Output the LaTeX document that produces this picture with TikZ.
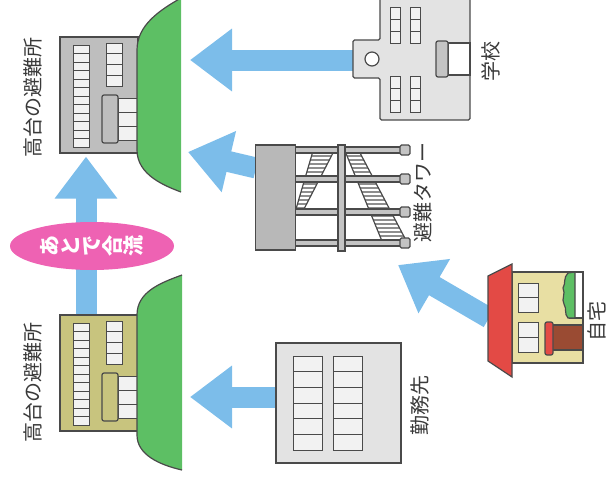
\documentclass[tikz,border=0pt]{standalone}
\usepackage{fontspec}
\setmainfont{Noto Sans CJK JP}
\usetikzlibrary{arrows.meta,positioning,shapes.geometric}

\definecolor{evacblue}{HTML}{7CBDEA}
\definecolor{hillgreen}{HTML}{5DBF64}
\definecolor{outline}{HTML}{4A4A4A}
\definecolor{labeltext}{HTML}{3A3A3A}
\definecolor{winwhite}{HTML}{F2F2F2}
\definecolor{shelgray}{HTML}{BEBEBE}
\definecolor{sheolive}{HTML}{C8C47E}
\definecolor{paleblock}{HTML}{E3E3E3}
\definecolor{towergray}{HTML}{B8B8B8}
\definecolor{beamgray}{HTML}{C4C4C4}
\definecolor{stairgray}{HTML}{8E8E8E}
\definecolor{mergepink}{HTML}{EE62B3}
\definecolor{roofred}{HTML}{E34A45}
\definecolor{wallbeige}{HTML}{E8DFA3}
\definecolor{doorbrown}{HTML}{9A4B33}

\tikzset{
  evac/.style={draw=evacblue,line width=21pt,-{Triangle[length=42pt,width=60pt]}},
  outl/.style={draw=outline,line width=1.2pt},
  bldg/.style={outl,rectangle,inner sep=0pt},
  win/.style={draw=outline,line width=1pt,fill=winwhite},
  hill/.style={fill=hillgreen},
  lbl/.style={rotate=90,text=labeltext,inner sep=0pt,font=\fontsize{20}{20}\selectfont}
}

% column of window panes: x, y, width, height, panes
\newcommand{\wincol}[5]{%
  \foreach \k in {1,...,#5}
    \draw[win] (#1,{#2+(\k-1)*#4/#5}) rectangle ++(#3,{#4/#5});}

% hillside shelter: name, shift down, wall colour
\newcommand{\shelter}[3]{%
  \begin{scope}[shift={(0,#2)}]
    \node[bldg,fill=#3,minimum width=78pt,minimum height=116pt] (#1) at (99,95) {};
    \wincol{73}{45}{16}{102}{12}
    \wincol{106}{43}{16}{43}{4}
    \wincol{118}{98}{19}{42}{3}
    \draw[outl,fill=#3,rounded corners=2pt] (102,95) rectangle (118,143);
  \end{scope}}

% one upright character turned on its side
\newcommand{\sidech}[1]{\rotatebox{90}{\rule[-.12em]{0pt}{1em}#1}}

\begin{document}
\begin{tikzpicture}[x=1pt,y=-1pt]
  \useasboundingbox (0,0) rectangle (611,479);
  \clip (0,0) rectangle (611,479);

  \coordinate (hill1-school) at (190,60);
  \coordinate (hill1-tower) at (188,152);
  \coordinate (hill2-work) at (190,397);
  \coordinate (tower-in) at (398,265);
  \coordinate (porch) at (354,60);

  % arrows go underneath everything else
  \draw[evac] (porch) -- (hill1-school);
  \draw[evac] (256,168) -- (hill1-tower);
  \draw[evac] (489,318) -- (tower-in);
  \draw[evac] (277,397) -- (hill2-work);

  \shelter{sh1}{0}{shelgray}
  \shelter{sh2}{278}{sheolive}
  \draw[evac,shorten >=3pt] ([xshift=-13pt]sh2.north) -- ([xshift=-13pt]sh1.south);

  \fill[hill] (181,-2) .. controls (160,10) and (137,25) .. (137,50) -- (137,150)
    .. controls (137,175) and (165,186) .. (181,192) -- cycle;
  \draw[outl] (181,-2) .. controls (160,10) and (137,25) .. (137,50) -- (137,150)
    .. controls (137,175) and (165,186) .. (181,192);
  \fill[hill] (182,275) .. controls (160,283) and (137,292) .. (137,315) -- (137,435)
    .. controls (137,455) and (160,465) .. (182,470) -- cycle;
  \draw[outl] (182,275) .. controls (160,283) and (137,292) .. (137,315) -- (137,435)
    .. controls (137,455) and (160,465) .. (182,470);

  \node[ellipse,fill=mergepink,minimum width=164pt,minimum height=48pt,inner sep=0pt,
    text=white,font=\fontsize{21}{21}\selectfont\bfseries] (merge) at (92,246)
    {\sidech{あ}\sidech{と}\sidech{で}\sidech{合}\sidech{流}};

  % school
  \draw[outl,fill=paleblock,rounded corners=1.5pt] (380,-5) -- (380,40) -- (353,40) -- (353,78)
    -- (380,78) -- (380,120) -- (470,120) -- (470,-5);
  \node[outl,circle,fill=white,minimum size=14pt,inner sep=0pt] (bell) at (372,59) {};
  \foreach \x in {390,410} {
    \wincol{\x}{7}{10}{36}{3}
    \wincol{\x}{76}{10}{36}{3}
  }
  \draw[outl,fill=white] (448,43) rectangle (470,75);
  \draw[outl,fill=beamgray,rounded corners=2pt] (436,41) rectangle (448,77);
  \node[lbl] (lschool) at (491,61) {学校};

  % tower
  \begin{scope}
    \clip (296,209) -- (304,209) -- (334,151) -- (313,151) -- cycle;
    \fill[stairgray] (290,145) rectangle (340,215);
    \foreach \y in {154,158,...,210} \draw[white,line width=1.2pt] (290,\y) -- (340,\y);
  \end{scope}
  \draw[outl] (296,209) -- (304,209) -- (334,151) -- (313,151) -- cycle;
  \begin{scope}
    \clip (345,151) -- (359,151) -- (409,246) -- (384,246) -- cycle;
    \fill[stairgray] (340,145) rectangle (412,250);
    \foreach \y in {154,158,...,246} \draw[white,line width=1.2pt] (340,\y) -- (412,\y);
  \end{scope}
  \draw[outl] (345,151) -- (359,151) -- (409,246) -- (384,246) -- cycle;
  \foreach \y in {150,179,212,243} {
    \draw[outl,fill=beamgray] (295,{\y-3}) rectangle (402,{\y+3});
    \draw[outl,fill=beamgray,rounded corners=1.5pt] (400,{\y-5}) rectangle (410,{\y+5});
  }
  \draw[outl,fill=beamgray] (338,145) rectangle (345,251);
  \node[bldg,fill=towergray,minimum width=40pt,minimum height=105pt] (tower) at (275.5,197.5) {};
  \node[lbl] (ltower) at (423,192) {避難タワー};

  % home
  \node[bldg,fill=wallbeige,minimum width=71pt,minimum height=91pt] (home) at (547.5,317.5) {};
  \draw[outl,fill=roofred] (488,276) -- (512,264) -- (512,377) -- (488,361) -- cycle;
  \wincol{518}{283}{20}{29}{2}
  \wincol{518}{322}{20}{30}{2}
  \draw[outl,fill=white] (570,272) rectangle (583,318);
  \draw[outl,fill=hillgreen] (575,272) -- (568,273) .. controls (563,278) and (566,283) .. (563,288)
    .. controls (566,294) and (561,299) .. (564,304) .. controls (567,309) and (564,314) .. (568,318)
    -- (575,318) -- cycle;
  \draw[outl,fill=doorbrown] (550,325) rectangle (583,350);
  \draw[outl,fill=roofred,rounded corners=2pt] (545,322) rectangle (553,355);
  \node[lbl] (lhome) at (597,321) {自宅};

  % workplace
  \node[bldg,fill=paleblock,minimum width=125pt,minimum height=120pt] (work) at (338.5,403) {};
  \wincol{293}{356}{29}{94}{6}
  \wincol{333}{356}{29}{94}{6}
  \node[lbl] (lwork) at (420,405) {勤務先};

  \node[lbl] (lsh1) at (33,97) {高台の避難所};
  \node[lbl] (lsh2) at (33,382) {高台の避難所};
\end{tikzpicture}
\end{document}
